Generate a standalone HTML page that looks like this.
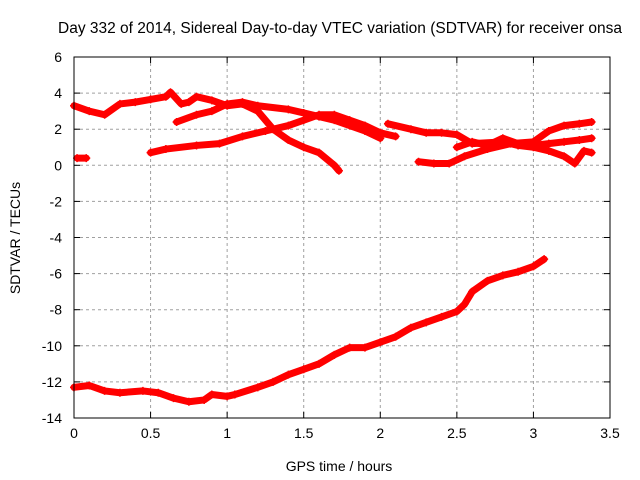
<!DOCTYPE html>
<html><head><meta charset="utf-8"><style>
body{margin:0;background:#fff}
svg{display:block;font-family:"Liberation Sans",sans-serif}
</style></head><body>
<svg id="chart" width="640" height="480">
<text x="340" y="33" font-size="15.5" text-anchor="middle">Day 332 of 2014, Sidereal Day-to-day VTEC variation (SDTVAR) for receiver onsa</text>
<text x="339" y="471" font-size="14" text-anchor="middle">GPS time / hours</text>
<text transform="translate(20,238) rotate(-90)" font-size="14" text-anchor="middle">SDTVAR / TECUs</text>
<g id="grid"></g><g id="series"></g>
<rect x="74" y="57" width="536" height="361" fill="none" stroke="#000" stroke-width="1"/>
</svg>
<script>
const xTicks=[0,0.5,1,1.5,2,2.5,3,3.5];
const xTickLabels=["0","0.5","1","1.5","2","2.5","3","3.5"];
const yTicks=[6,4,2,0,-2,-4,-6,-8,-10,-12,-14];
const yTickLabels=["6","4","2","0","-2","-4","-6","-8","-10","-12","-14"];
const seriesA=[[0,3.3],[0.1,3.0],[0.2,2.8],[0.3,3.4],[0.4,3.5],[0.5,3.65],[0.6,3.8],[0.63,4.05],[0.7,3.4],[0.75,3.5],[0.8,3.8],[0.9,3.6],[1.0,3.3],[1.1,3.4],[1.2,3.0],[1.3,2.0],[1.4,1.4],[1.5,1.0],[1.6,0.7],[1.7,0.0],[1.73,-0.3]];
const seriesB=[[0.67,2.4],[0.8,2.8],[0.9,3.0],[1.0,3.4],[1.1,3.5],[1.2,3.3],[1.4,3.1],[1.5,2.9],[1.6,2.7],[1.7,2.5],[1.8,2.2],[1.9,1.9],[2.0,1.5]];
const seriesC=[[0.5,0.7],[0.6,0.9],[0.8,1.1],[0.95,1.2],[1.1,1.6],[1.25,1.9],[1.4,2.2],[1.5,2.5],[1.6,2.8],[1.7,2.8],[1.8,2.5],[1.9,2.2],[2.0,1.8],[2.1,1.6]];
const seriesD=[[2.05,2.3],[2.2,2.0],[2.3,1.8],[2.4,1.8],[2.5,1.7],[2.6,1.2],[2.8,1.3],[2.9,1.1],[3.0,1.0],[3.1,0.8],[3.2,0.5],[3.27,0.1],[3.33,0.8],[3.38,0.7]];
const seriesE=[[2.25,0.2],[2.35,0.1],[2.45,0.1],[2.55,0.5],[2.7,0.9],[2.85,1.2],[3.0,1.3],[3.1,1.9],[3.2,2.2],[3.3,2.3],[3.38,2.4]];
const seriesF=[[2.5,1.0],[2.6,1.3],[2.7,1.1],[2.8,1.5],[2.9,1.2],[3.0,1.1],[3.1,1.2],[3.2,1.3],[3.3,1.4],[3.38,1.5]];
const seriesG=[[0.02,0.4],[0.08,0.4]];
const seriesH=[[0,-12.3],[0.1,-12.2],[0.2,-12.5],[0.3,-12.6],[0.45,-12.5],[0.55,-12.6],[0.65,-12.9],[0.75,-13.1],[0.85,-13.0],[0.9,-12.7],[1.0,-12.8],[1.05,-12.7],[1.2,-12.3],[1.3,-12.0],[1.4,-11.6],[1.5,-11.3],[1.6,-11.0],[1.7,-10.5],[1.8,-10.1],[1.9,-10.1],[2.0,-9.8],[2.1,-9.5],[2.2,-9.0],[2.3,-8.7],[2.4,-8.4],[2.5,-8.1],[2.55,-7.7],[2.6,-7.0],[2.7,-6.4],[2.8,-6.1],[2.9,-5.9],[3.0,-5.6],[3.07,-5.2]];
const allSeries=[seriesA,seriesB,seriesC,seriesD,seriesE,seriesF,seriesG,seriesH];
const NS="http://www.w3.org/2000/svg";
const X0=74,X1=610,Y0=57,Y1=418;
function xs(v){return X0+(v-0)/3.5*(X1-X0);}
function ys(v){return Y0+(6-v)/20*(Y1-Y0);}
function mk(t,a,p){const e=document.createElementNS(NS,t);for(const k in a)e.setAttribute(k,a[k]);p.appendChild(e);return e;}
const grid=document.getElementById('grid');
xTicks.forEach((t,i)=>{const x=xs(t);
 if(i>0&&i<xTicks.length-1){const l=mk('line',{x1:x,x2:x,y1:Y0,y2:Y1,stroke:'#a0a0a0','stroke-dasharray':'3,3'},grid);
 
 }
 mk('line',{x1:x,x2:x,y1:Y1,y2:Y1-6,stroke:'#000'},grid);
 mk('line',{x1:x,x2:x,y1:Y0,y2:Y0+6,stroke:'#000'},grid);
 const tx=mk('text',{x:x,y:Y1+20,'font-size':14,'text-anchor':'middle'},grid);tx.textContent=xTickLabels[i];
 
 
});
yTicks.forEach((t,i)=>{const y=ys(t);
 if(i>0&&i<yTicks.length-1){const l=mk('line',{x1:X0,x2:X1,y1:y,y2:y,stroke:'#a0a0a0','stroke-dasharray':'3,3'},grid);
 
 }
 mk('line',{x1:X0,x2:X0+6,y1:y,y2:y,stroke:'#000'},grid);
 mk('line',{x1:X1,x2:X1-6,y1:y,y2:y,stroke:'#000'},grid);
 const tx=mk('text',{x:X0-12,y:y+5,'font-size':14,'text-anchor':'end'},grid);tx.textContent=yTickLabels[i];
 
 
});
const sg=document.getElementById('series');
allSeries.forEach((s,si)=>{
 const pts=s.map(p=>xs(p[0])+','+ys(p[1])).join(' ');
 const pl=mk('polyline',{points:pts,fill:'none',stroke:'#ff0000','stroke-width':7,'stroke-linejoin':'round','stroke-linecap':'round'},sg);
 
 
 s.forEach(p=>{const x=xs(p[0]),y=ys(p[1]);
  const m=mk('path',{d:`M${x-4},${y}H${x+4}M${x},${y-4}V${y+4}`,stroke:'#ff0000','stroke-width':1.5},sg);
  
  
 });
});
</script>
</body></html>
